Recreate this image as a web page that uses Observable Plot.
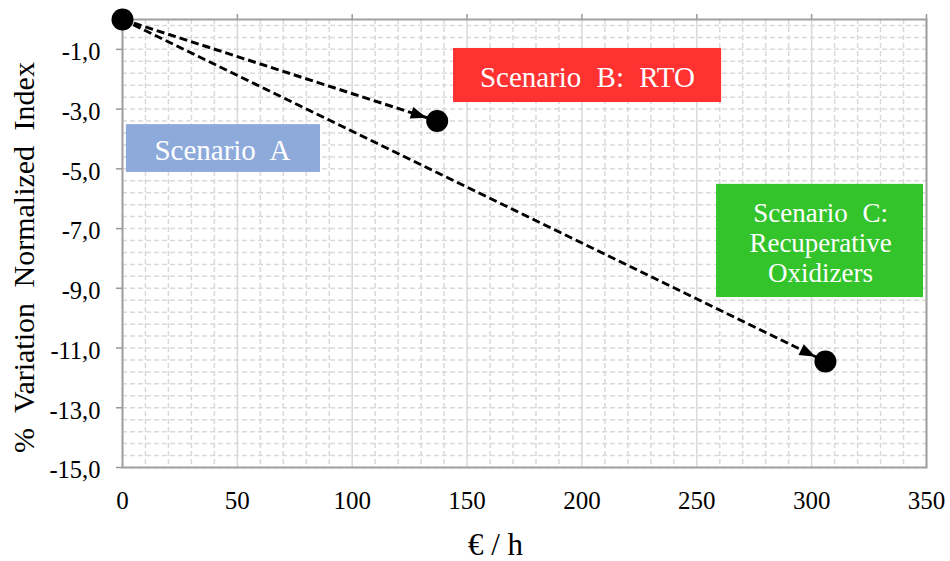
<!DOCTYPE html>
<html><head><meta charset="utf-8">
<script src="https://cdn.jsdelivr.net/npm/d3@7"></script>
<script src="https://cdn.jsdelivr.net/npm/@observablehq/plot@0.6"></script>
<style>body{margin:0;background:#fff} svg text{word-spacing:8px}</style>
</head><body><div id="chart"></div>
<script>
// Data
const scenarios = ["Scenario A", "Scenario B: RTO", "Scenario C: Recuperative Oxidizers"];
const costPerHour = [0, 137, 306];
const variationIndex = [0, -3.4, -11.45];
const xTicks = [0, 50, 100, 150, 200, 250, 300, 350];
const yTicks = [-1, -3, -5, -7, -9, -11, -13, -15];
const xLabel = "€ / h";
const yLabel = "% Variation Normalized Index";

// Annotation boxes (data coordinates)
const boxLabels = ["Scenario A", "Scenario B: RTO", "Scenario C:\nRecuperative\nOxidizers"];
const boxColors = ["#8eaadb", "#ff3131", "#33c42b"];
const boxX1 = [1.7, 144.1, 258.6];
const boxX2 = [86.2, 260.8, 348.7];
const boxY1 = [-3.52, -0.97, -5.52];
const boxY2 = [-5.12, -2.78, -9.31];
const boxTextX = [43.5, 202.4, 303.9];
const boxTextY = [-4.35, -1.91, -7.47];
const boxFontSize = [29, 29, 27];

const points = scenarios.map((s, i) => ({s, x: costPerHour[i], y: variationIndex[i]}));
const links = [1, 2].map(i => ({x1: costPerHour[0], y1: variationIndex[0], x2: costPerHour[i], y2: variationIndex[i]}));
const boxes = boxLabels.map((t, i) => ({t, c: boxColors[i], x1: boxX1[i], x2: boxX2[i], y1: boxY1[i], y2: boxY2[i], tx: boxTextX[i], ty: boxTextY[i], fs: boxFontSize[i]}));

const xMinor = d3.range(0, 351, 10).filter(v => v % 50 !== 0);
const yMinor = d3.range(-15, 0.01, 0.4);
const fmt = d => d.toFixed(1).replace(".", ",");

function filledArrow(color, context) {
  const m = d3.create("svg:marker")
    .attr("viewBox", "-30 -10 30 20")
    .attr("markerWidth", 30).attr("markerHeight", 20)
    .attr("markerUnits", "userSpaceOnUse")
    .attr("orient", "auto")
    .attr("refX", 0).attr("refY", 0);
  m.append("path").attr("d", "M-27,-6L-11,0L-27,6Z").attr("fill", color).attr("stroke", "none");
  const n = m.node();
  n.node = () => n;
  return n;
}

const chart = Plot.plot({
  width: 950, height: 561,
  marginLeft: 122, marginRight: 24, marginTop: 19, marginBottom: 94,
  style: {fontFamily: "Liberation Serif", background: "white", color: "#000"},
  x: {domain: [0, 350]},
  y: {domain: [-15, 0]},
  marks: [
    Plot.ruleX(xMinor, {stroke: "#d9d9d9", strokeWidth: 1.5, strokeDasharray: "5,3"}),
    Plot.ruleY(yMinor, {stroke: "#d9d9d9", strokeWidth: 1.5, strokeDasharray: "5,3"}),
    Plot.ruleX(xTicks, {stroke: "#d9d9d9", strokeWidth: 1.5}),
    Plot.axisY({ticks: yTicks, tickSize: 6, tickFormat: () => "", label: null, stroke: "#999", strokeWidth: 1.5}),
    Plot.axisY({ticks: yTicks, tickFormat: fmt, tickSize: 0, tickPadding: 22, fontSize: 24.5, label: null, dy: 3}),
    Plot.axisX({ticks: xTicks, tickSize: 0, tickPadding: 24, fontSize: 25, label: null}),
    Plot.axisX({anchor: "top", ticks: xTicks, tickSize: 6, tickFormat: () => "", label: null, stroke: "#999", strokeWidth: 1.5}),
    Plot.frame({stroke: "#a0a0a0", strokeWidth: 2}),
    Plot.rect(boxes, {x1: "x1", x2: "x2", y1: "y1", y2: "y2", fill: "c"}),
    Plot.link(links, {x1: "x1", y1: "y1", x2: "x2", y2: "y2", stroke: "black", strokeWidth: 3, strokeDasharray: "8,4", markerEnd: filledArrow}),
    Plot.dot(points, {x: "x", y: "y", r: 11, fill: "black"}),
    Plot.text(boxes, {x: "tx", y: "ty", text: "t", fill: "white", fontSize: d => d.fs, lineHeight: 1.1}),
    Plot.text([xLabel], {frameAnchor: "bottom", text: d => d, textAnchor: "middle", lineAnchor: "middle", dx: -29, dy: 78, fontSize: 31, fill: "black"}),
    Plot.text([yLabel], {frameAnchor: "left", text: d => d, textAnchor: "middle", lineAnchor: "middle", rotate: -90, dx: -98, dy: 14, fontSize: 30, fill: "black"})
  ]
});
d3.select(chart).selectAll("text").filter(function () { return this.textContent === xLabel; }).style("word-spacing", "0px");
document.getElementById("chart").append(chart);
</script>
</body></html>
